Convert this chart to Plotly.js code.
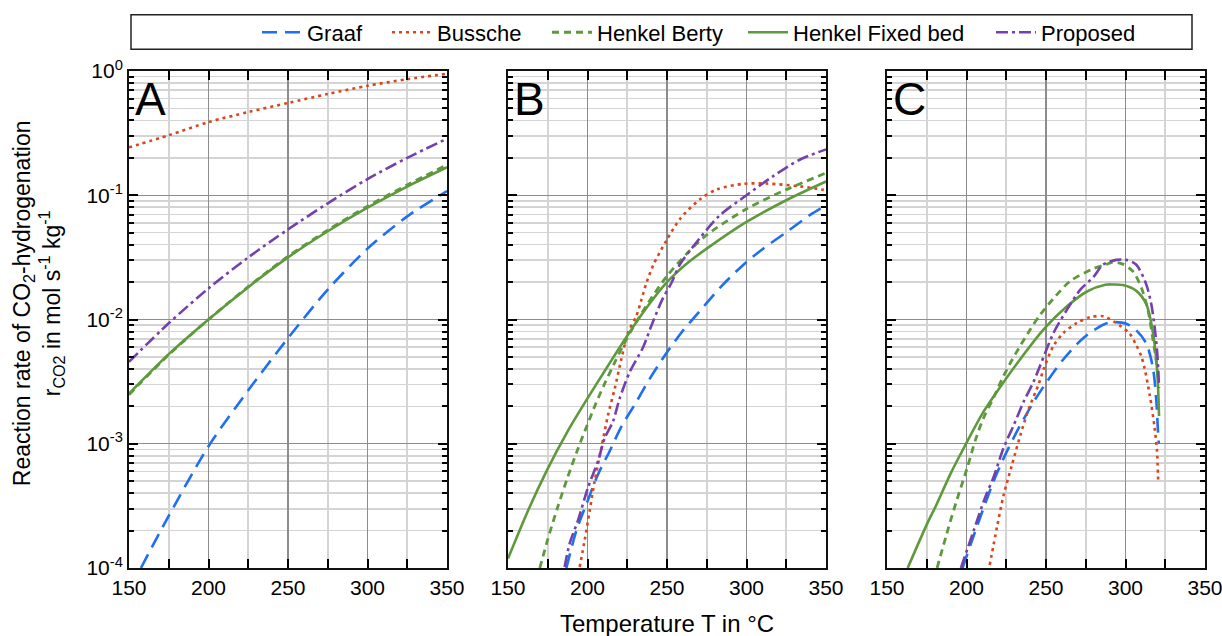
<!DOCTYPE html>
<html><head><meta charset="utf-8">
<script src="https://cdn.plot.ly/plotly-3.0.1.min.js"></script>
<style>html,body{margin:0;padding:0;background:#fff}#chart{width:1222px;height:636px}</style>
</head><body><div id="chart"></div>
<script>
// ---------- data ----------
const seriesNames = ['Graaf', 'Bussche', 'Henkel Berty', 'Henkel Fixed bed', 'Proposed'];
const panelLabels = ['A', 'B', 'C'];
const xTickVals = [150, 200, 250, 300, 350];
const yTickVals = [1e-4, 1e-3, 1e-2, 1e-1, 1];
const yTickText = ['10<sup>-4</sup>', '10<sup>-3</sup>', '10<sup>-2</sup>', '10<sup>-1</sup>', '10<sup>0</sup>'];

// Panel A
const tA = [150, 175, 200, 225, 250, 275, 300, 325, 350];
const tA_graaf = [157.5, 175, 200, 225, 250, 275, 300, 325, 350];
const rA_graaf = [1.0e-4, 2.63e-4, 9.55e-4, 2.69e-3, 7.08e-3, 0.0174, 0.0372, 0.0676, 0.108];
const rA_bussche = [0.243, 0.304, 0.388, 0.467, 0.553, 0.653, 0.76, 0.859, 0.95];
const rA_berty = [0.00248, 0.0052, 0.0100, 0.0184, 0.0322, 0.0524, 0.0815, 0.121, 0.176];
const rA_fixed = [0.00253, 0.00526, 0.0100, 0.0182, 0.0316, 0.0513, 0.0794, 0.1175, 0.168];
const rA_proposed = [0.00457, 0.00933, 0.0178, 0.0316, 0.0531, 0.0861, 0.135, 0.2, 0.285];

// Panel B
const tB_graaf = [186.7, 193, 199.3, 206.6, 213.9, 221.3, 230.7, 239.1, 248.5, 259, 270.5, 284.3, 296.9, 309.4, 325.2, 340.3, 350];
const rB_graaf = [1.0e-4, 2.0e-4, 3.27e-4, 5.66e-4, 8.71e-4, 1.374e-3, 2.17e-3, 3.33e-3, 5.11e-3, 7.83e-3, 0.01164, 0.01858, 0.02673, 0.0363, 0.0506, 0.0698, 0.0832];
const tB_bussche = [195.1, 198.2, 201.4, 204.5, 208.7, 212.9, 217.1, 221.3, 225.5, 230.7, 233.9, 237, 241.5, 249.8, 258.2, 270.8, 281.3, 298.1, 312.5, 333.5, 347, 350];
const rB_bussche = [1.02e-4, 1.67e-4, 2.90e-4, 5.01e-4, 9.23e-4, 1.70e-3, 2.77e-3, 4.81e-3, 7.83e-3, 0.01064, 0.01442, 0.01959, 0.0276, 0.0436, 0.0646, 0.0929, 0.1114, 0.1236, 0.1242, 0.118, 0.1114, 0.1096];
const tB_berty = [170, 175, 181, 187.5, 194, 199.5, 204.5, 211, 217, 222, 227.5, 238, 250, 262.5, 275, 300, 325, 350];
const rB_berty = [1.0e-4, 1.70e-4, 3.02e-4, 5.37e-4, 9.12e-4, 1.38e-3, 2.0e-3, 3.09e-3, 4.47e-3, 6.03e-3, 8.13e-3, 0.0135, 0.0224, 0.0339, 0.0479, 0.0776, 0.111, 0.151];
const tB_fixed = [150, 162.5, 175, 187.5, 200, 212.5, 225, 237.5, 250, 262.5, 275, 300, 325, 350];
const rB_fixed = [1.19e-4, 2.88e-4, 6.31e-4, 1.26e-3, 2.32e-3, 4.17e-3, 7.41e-3, 0.0126, 0.01995, 0.0282, 0.0372, 0.061, 0.0912, 0.129];
const tB_proposed = [185.6, 188.8, 194, 200.3, 206.6, 210.8, 216, 220.2, 226.5, 234.9, 240.1, 247, 253, 258, 270.5, 283, 300, 316.6, 333.4, 350];
const rB_proposed = [1.02e-4, 1.58e-4, 2.41e-4, 4.44e-4, 7.24e-4, 1.109e-3, 1.507e-3, 2.31e-3, 3.77e-3, 5.96e-3, 8.85e-3, 0.01445, 0.01995, 0.0276, 0.0449, 0.0686, 0.1, 0.142, 0.193, 0.234];

// Panel C
const tC_graaf = [197.5, 207, 217.1, 224.4, 232.8, 242.2, 250.6, 261.1, 273.7, 286.3, 292.1, 300.5, 306.8, 313.1, 317.3, 319.4, 320.4, 321];
const rC_graaf = [1.0e-4, 2.24e-4, 5.01e-4, 8.17e-4, 1.334e-3, 2.17e-3, 3.16e-3, 4.81e-3, 7.14e-3, 9.12e-3, 9.53e-3, 9.25e-3, 8.18e-3, 6.41e-3, 4.05e-3, 2.2e-3, 1.27e-3, 1.0e-3];
const tC_bussche = [214.6, 219.2, 223.4, 228.6, 233.9, 239.1, 245.4, 248.5, 254.8, 261.1, 269.5, 277.9, 286.3, 296.3, 302.6, 306.8, 310, 312, 315.2, 318.3, 319.8, 320.6];
const rC_bussche = [1.057e-4, 2.14e-4, 3.89e-4, 6.76e-4, 1.175e-3, 1.905e-3, 3.02e-3, 3.98e-3, 6.17e-3, 7.83e-3, 9.4e-3, 0.01047, 0.0106, 8.97e-3, 7.71e-3, 6.21e-3, 5.04e-3, 4.05e-3, 2.48e-3, 1.35e-3, 8.79e-4, 4.79e-4];
const tC_berty = [181.5, 188.8, 194, 200.3, 205.6, 210.8, 217, 222.3, 228, 233.9, 240.1, 246.4, 254.8, 265.3, 280, 287.3, 292.1, 298.4, 304.7, 310, 314.2, 317.3, 319.5, 320.5];
const rC_berty = [1.0e-4, 2.14e-4, 3.55e-4, 6.31e-4, 1.07e-3, 1.62e-3, 2.34e-3, 3.31e-3, 4.57e-3, 6.17e-3, 8.32e-3, 0.01096, 0.01479, 0.0204, 0.0257, 0.02754, 0.029, 0.0279, 0.0244, 0.018, 0.01178, 6.82e-3, 4.47e-3, 3.16e-3];
const tC_fixed = [163, 175.2, 181, 190, 199.7, 210.8, 221.3, 233.9, 248.5, 263.2, 275.8, 287.3, 292.1, 298.4, 306.8, 313.1, 316.2, 318.3, 319.6, 320.4, 321.1];
const rC_fixed = [1.0e-4, 2.265e-4, 3.21e-4, 5.75e-4, 1.0e-3, 1.82e-3, 2.88e-3, 4.81e-3, 8.32e-3, 0.01276, 0.0168, 0.01905, 0.01914, 0.01892, 0.017, 0.0133, 9.33e-3, 6.31e-3, 4.37e-3, 3.02e-3, 1.67e-3];
const tC_proposed = [196.5, 204.5, 211.8, 217, 223.4, 229.7, 236, 242.2, 254.8, 263.2, 271.6, 280, 285.8, 294.2, 300.5, 306.8, 313.1, 316.2, 318.3, 319.8, 320.6, 321.1];
const rC_proposed = [1.0e-4, 2.0e-4, 3.72e-4, 5.37e-4, 9.33e-4, 1.41e-3, 2.19e-3, 3.16e-3, 7.83e-3, 0.012, 0.0174, 0.0221, 0.0276, 0.0302, 0.0302, 0.0276, 0.0191, 0.0133, 8.71e-3, 5.69e-3, 3.98e-3, 2.82e-3];

// ---------- styles ----------
const lineStyles = [
  {color: '#1f6ff0', dash: '15px,8px', width: 2.6},
  {color: '#d9461c', dash: '3px,4px', width: 2.6},
  {color: '#5e9a3c', dash: '7px,5px', width: 2.8},
  {color: '#5e9a3c', dash: 'solid', width: 2.6},
  {color: '#7440ae', dash: '12px,4px,3px,4px', width: 2.6}
];
// legend text start (pixels) for each entry
const legendTextPx = [305, 435, 595, 791, 1039];

const panels = [
  [[tA_graaf, rA_graaf], [tA, rA_bussche], [tA, rA_berty], [tA, rA_fixed], [tA, rA_proposed]],
  [[tB_graaf, rB_graaf], [tB_bussche, rB_bussche], [tB_berty, rB_berty], [tB_fixed, rB_fixed], [tB_proposed, rB_proposed]],
  [[tC_graaf, rC_graaf], [tC_bussche, rC_bussche], [tC_berty, rC_berty], [tC_fixed, rC_fixed], [tC_proposed, rC_proposed]]
];

const traces = [];
panels.forEach((panel, p) => {
  panel.forEach((xy, s) => {
    traces.push({
      x: xy[0], y: xy[1], type: 'scatter', mode: 'lines',
      name: seriesNames[s], legendgroup: seriesNames[s], showlegend: p === 0,
      legend: s === 0 ? 'legend' : 'legend' + (s + 1),
      xaxis: p === 0 ? 'x' : 'x' + (p + 1), yaxis: p === 0 ? 'y' : 'y' + (p + 1),
      line: {color: lineStyles[s].color, dash: lineStyles[s].dash, width: lineStyles[s].width, shape: 'spline', smoothing: 0.8},
      hoverinfo: 'skip'
    });
  });
});

const yMinor = [];
[1e-4, 1e-3, 1e-2, 1e-1].forEach(d => { for (let k = 2; k <= 9; k++) yMinor.push(d * k); });

const FONT = 'Arial, "Liberation Sans", sans-serif';
const majorGrid = '#8c8c8c';
const minorGrid = '#d4d4d4';

function xAxis(domain, anchor) {
  return {
    domain: domain, anchor: anchor, range: [150, 350], tickmode: 'array', tickvals: xTickVals,
    ticks: 'inside', ticklen: 9, tickwidth: 2, tickcolor: '#000',
    showline: true, linecolor: '#111', linewidth: 2, mirror: 'ticks',
    showgrid: true, gridcolor: majorGrid, gridwidth: 1.2, zeroline: false,
    tickfont: {family: FONT, size: 21, color: '#000'}, ticklabeloverflow: 'allow',
    minor: {tickmode: 'array', tickvals: [175, 225, 275, 325], ticks: 'inside', ticklen: 9, tickwidth: 2, tickcolor: '#000', showgrid: true, gridcolor: minorGrid, gridwidth: 1.6},
    fixedrange: true
  };
}
function yAxis(anchor, showLabels) {
  return {
    anchor: anchor, type: 'log', range: [-4, 0], tickmode: 'array', tickvals: yTickVals, ticktext: yTickText,
    showticklabels: showLabels,
    ticks: 'inside', ticklen: 9, tickwidth: 2, tickcolor: '#000',
    showline: true, linecolor: '#111', linewidth: 2, mirror: 'ticks',
    showgrid: true, gridcolor: majorGrid, gridwidth: 1.2, zeroline: false,
    tickfont: {family: FONT, size: 21, color: '#000'}, ticklabeloverflow: 'allow',
    minor: {tickmode: 'array', tickvals: yMinor, ticks: 'inside', ticklen: 5, tickwidth: 2, tickcolor: '#000', showgrid: true, gridcolor: minorGrid, gridwidth: 1.6},
    fixedrange: true
  };
}

const W = 1222, H = 636, L = 129, R = 17, T = 65, B = 68;
const pw = W - L - R, ph = H - T - B;
const px2x = px => (px - L) / pw;
const py2y = py => (H - B - py) / ph;

const annotations = panelLabels.map((lab, i) => ({
  text: lab, xref: (i === 0 ? 'x' : 'x' + (i + 1)) + ' domain', yref: (i === 0 ? 'y' : 'y' + (i + 1)) + ' domain',
  x: 0.014, y: 1.0, xanchor: 'left', yanchor: 'top', showarrow: false,
  font: {family: FONT, size: 46, color: '#000'}
}));
annotations.push({
  text: 'Reaction rate of CO<sub>2</sub>-hydrogenation<br>r<sub>CO2</sub> in mol s<sup>-1</sup> kg<sup>-1</sup>',
  xref: 'paper', yref: 'paper', x: px2x(38), y: py2y(300), xanchor: 'center', yanchor: 'middle',
  textangle: -90, showarrow: false, font: {family: FONT, size: 23, color: '#000'}
});
annotations.push({
  text: 'Temperature T in °C', xref: 'paper', yref: 'paper', x: px2x(667), y: py2y(624),
  xanchor: 'center', yanchor: 'middle', showarrow: false, font: {family: FONT, size: 24, color: '#000'}
});

const layout = {
  width: W, height: H, margin: {l: L, r: R, t: T, b: B},
  paper_bgcolor: '#fff', plot_bgcolor: '#fff',
  font: {family: FONT, color: '#000'},
  xaxis: xAxis([0, 318 / pw], 'y'),
  xaxis2: xAxis([379 / pw, 697 / pw], 'y2'),
  xaxis3: xAxis([758 / pw, 1], 'y3'),
  yaxis: yAxis('x', true),
  yaxis2: yAxis('x2', false),
  yaxis3: yAxis('x3', false),
  showlegend: true,
  shapes: [{
    type: 'rect', xref: 'paper', yref: 'paper', x0: px2x(131), x1: px2x(1192), y0: py2y(43), y1: py2y(8),
    line: {color: '#222', width: 1.5}, fillcolor: 'rgba(0,0,0,0)', layer: 'below'
  }],
  annotations: annotations
};
legendTextPx.forEach((tx, s) => {
  layout[s === 0 ? 'legend' : 'legend' + (s + 1)] = {
    orientation: 'h', x: px2x(tx - 48), y: py2y(26), xanchor: 'left', yanchor: 'middle',
    bgcolor: 'rgba(0,0,0,0)', borderwidth: 0, font: {family: FONT, size: 22, color: '#000'},
    itemwidth: 40
  };
});

Plotly.newPlot('chart', traces, layout, {displayModeBar: false, staticPlot: true});
</script>
</body></html>
